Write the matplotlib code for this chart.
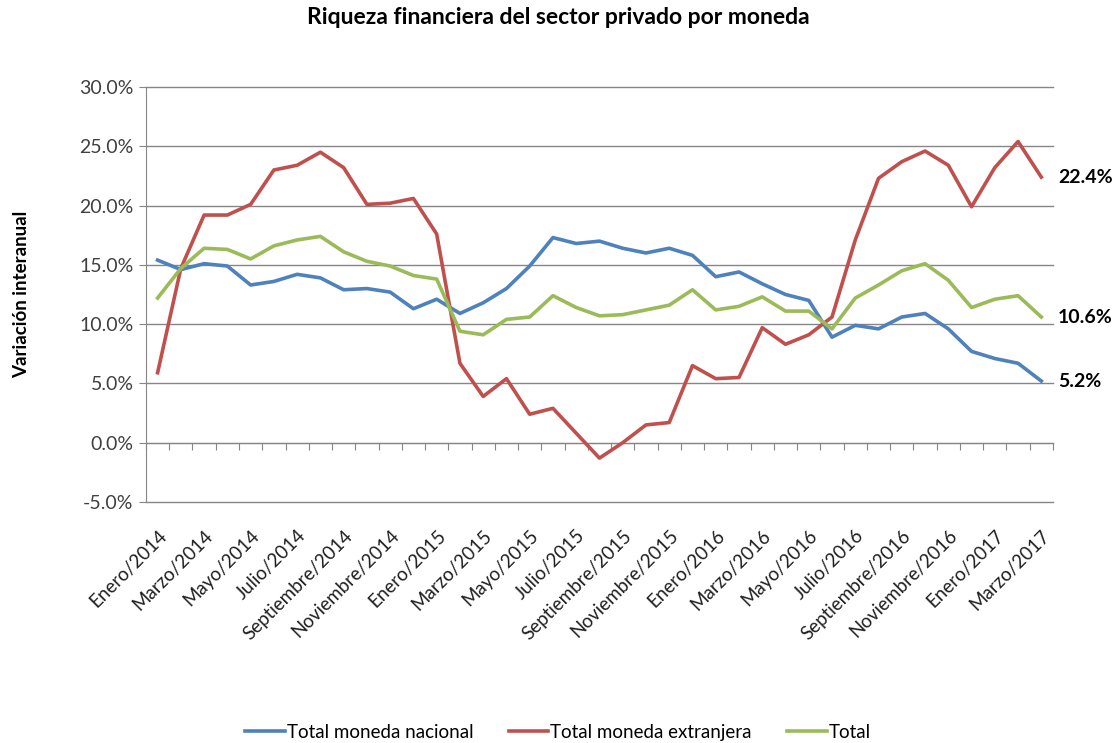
import matplotlib.pyplot as plt
import numpy as np

# meses (Enero/2014 - Marzo/2017)
meses = ['Enero', 'Febrero', 'Marzo', 'Abril', 'Mayo', 'Junio', 'Julio', 'Agosto',
         'Septiembre', 'Octubre', 'Noviembre', 'Diciembre']
periodos = [f'{meses[i % 12]}/{2014 + i // 12}' for i in range(39)]

# variación interanual (%)
nacional = [15.4, 14.6, 15.1, 14.9, 13.3, 13.6, 14.2, 13.9, 12.9, 13.0, 12.7, 11.3,
            12.1, 10.9, 11.8, 13.0, 14.9, 17.3, 16.8, 17.0, 16.4, 16.0, 16.4, 15.8,
            14.0, 14.4, 13.4, 12.5, 12.0, 8.9, 9.9, 9.6, 10.6, 10.9, 9.6, 7.7,
            7.1, 6.7, 5.2]
extranjera = [5.9, 14.7, 19.2, 19.2, 20.1, 23.0, 23.4, 24.5, 23.2, 20.1, 20.2, 20.6,
              17.6, 6.7, 3.9, 5.4, 2.4, 2.9, 0.8, -1.3, 0.0, 1.5, 1.7, 6.5,
              5.4, 5.5, 9.7, 8.3, 9.1, 10.6, 17.1, 22.3, 23.7, 24.6, 23.4, 19.9,
              23.2, 25.4, 22.4]
total = [12.2, 14.7, 16.4, 16.3, 15.5, 16.6, 17.1, 17.4, 16.1, 15.3, 14.9, 14.1,
         13.8, 9.4, 9.1, 10.4, 10.6, 12.4, 11.4, 10.7, 10.8, 11.2, 11.6, 12.9,
         11.2, 11.5, 12.3, 11.1, 11.1, 9.6, 12.2, 13.3, 14.5, 15.1, 13.7, 11.4,
         12.1, 12.4, 10.6]

azul, rojo, verde = '#4F81BD', '#C0504D', '#9BBB59'
gris = '#868686'

plt.rcParams['font.family'] = ['Lato', 'DejaVu Sans']

fig = plt.figure(figsize=(11.16, 7.43), dpi=100)
ax = fig.add_axes([0.1308, 0.3244, 0.8127, 0.5585])

x = np.arange(len(periodos))
ax.plot(x, nacional, color=azul, lw=2.6, label='Total moneda nacional')
ax.plot(x, extranjera, color=rojo, lw=2.6, label='Total moneda extranjera')
ax.plot(x, total, color=verde, lw=2.6, label='Total')

ax.set_xlim(-0.5, len(periodos) - 0.5)
ax.set_ylim(-5, 30)
ax.set_yticks(np.arange(-5, 31, 5))
ax.set_yticklabels([f'{v:.1f}%' for v in np.arange(-5, 31, 5)])
ax.grid(axis='y', color=gris, lw=1)
for g in ax.get_ygridlines():
    g.set_clip_on(False)
ax.set_axisbelow(True)

for s in ['top', 'right', 'bottom']:
    ax.spines[s].set_visible(False)
ax.spines['left'].set_color(gris)
ax.tick_params(axis='y', colors=gris, labelcolor='#404040', labelsize=14, length=5, pad=4)

ax.set_xticks(x[::2])
ax.set_xticklabels(periodos[::2], rotation=45, ha='right', rotation_mode='anchor',
                   fontsize=13.5, color='#202020')
ax.tick_params(axis='x', length=0, pad=18)

# eje de categorías cruzando en 0%
sec = ax.secondary_xaxis(5 / 35)
sec.set_xticks(np.arange(-0.5, len(periodos), 1))
sec.set_xticklabels([])
sec.tick_params(axis='x', direction='out', length=5, color=gris)
sec.spines['bottom'].set_color(gris)

# últimos valores
for serie in [extranjera, total, nacional]:
    ax.annotate(f'{serie[-1]:.1f}%', (x[-1], serie[-1]), xytext=(12, 0),
                textcoords='offset points', va='center', ha='left',
                fontsize=14, fontweight='bold', annotation_clip=False)

ax.set_ylabel('Variación interanual', fontsize=13.5, fontweight='bold')
ax.yaxis.set_label_coords(-0.128, 0.5)
fig.suptitle('Riqueza financiera del sector privado por moneda', fontsize=16.5,
             fontweight='bold', y=0.99)

fig.legend(loc='lower center', bbox_to_anchor=(0.5, -0.02), ncol=3, frameon=False,
           fontsize=13.5, handlelength=2.1, handletextpad=0.1, columnspacing=1.9)

fig.savefig('out.png', dpi=100)
